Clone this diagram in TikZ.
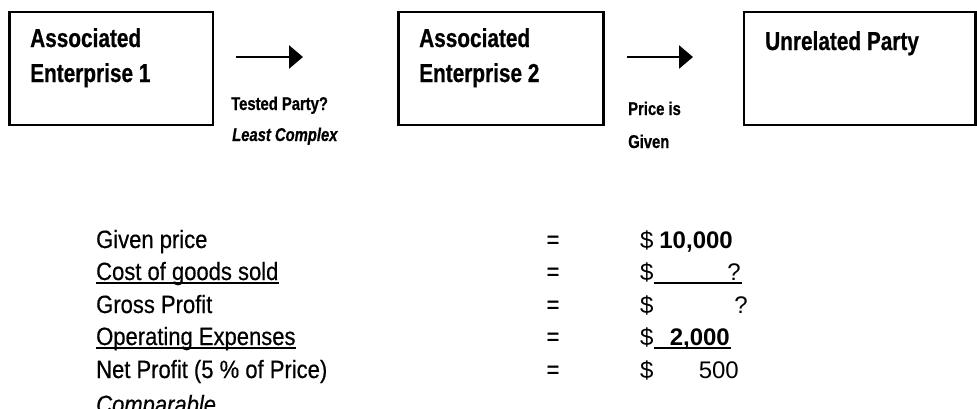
\documentclass[tikz,border=0pt]{standalone}
\usepackage{fontspec}
\setmainfont{Liberation Sans}
\newfontfamily\condfont[FakeStretch=0.8,FakeBold=0.6]{Liberation Sans}
\newfontfamily\condreg[FakeStretch=0.88,FakeBold=0.5]{Liberation Sans}
\usetikzlibrary{arrows.meta}
\tikzset{
 box/.style={draw, line width=2.6pt, inner sep=0pt},
 boxtxt/.style={anchor=base west, inner sep=0pt, font=\condfont\bfseries\fontsize{26}{30}\selectfont},
 smalltxt/.style={anchor=base west, inner sep=0pt, font=\condfont\bfseries\fontsize{18.5}{22}\selectfont},
 rowtxt/.style={anchor=base west, inner sep=0pt, font=\condreg\fontsize{25}{30}\selectfont},
 eqtxt/.style={anchor=base, inner sep=0pt, font=\condreg\fontsize{25}{30}\selectfont},
 valtxt/.style={anchor=base east, inner sep=0pt, font=\fontsize{24}{28}\selectfont},
 doltxt/.style={anchor=base west, inner sep=0pt, font=\fontsize{24}{28}\selectfont},
 flow/.style={line width=2.6pt, -{Triangle[length=14pt,width=23pt]}},
 uline/.style={line width=2pt},
}
\begin{document}
\begin{tikzpicture}[x=1pt,y=-1pt]
\useasboundingbox (0,0) rectangle (977,408);
\clip (0,0) rectangle (977,408);
% boxes
\node[box, minimum width=203.5pt, minimum height=113pt] (ae1) at (111.25,68.5) {};
\node[box, minimum width=205pt, minimum height=113pt] (ae2) at (501,68.5) {};
\node[box, minimum width=231.5pt, minimum height=113pt] (up) at (859.75,68.5) {};
\node[boxtxt] (t1a) at (30,47) {Associated};
\node[boxtxt] (t1b) at (30,82) {Enterprise 1};
\node[boxtxt] (t2a) at (419,47) {Associated};
\node[boxtxt] (t2b) at (419,82) {Enterprise 2};
\node[boxtxt] (t3a) at (765,50) {Unrelated Party};
% arrows
\coordinate (a1s) at (236,57);
\coordinate (a1e) at (303,57);
\coordinate (a2s) at (627,57);
\coordinate (a2e) at (693,57);
\draw[flow] (a1s) -- (a1e);
\draw[flow] (a2s) -- (a2e);
\node[smalltxt] (tp) at (231,110) {Tested Party?};
\node[smalltxt] (lc) at (232,141) {\itshape Least Complex};
\node[smalltxt] (pi) at (628,115) {Price is};
\node[smalltxt] (pg) at (628,148) {Given};
% rows
\node[rowtxt] (l1) at (96,248) {Given price};
\node[rowtxt] (l2) at (96,280) {Cost of goods sold};
\node[rowtxt] (l3) at (96,313) {Gross Profit};
\node[rowtxt] (l4) at (96,345) {Operating Expenses};
\node[rowtxt] (l5) at (96,378) {Net Profit (5 \% of Price)};
\node[rowtxt] (l6) at (96,413) {\itshape Comparable};
\draw[uline] ([yshift=-3pt]l2.base west) -- ([yshift=-3pt]l2.base east);
\draw[uline] ([yshift=-3pt]l4.base west) -- ([yshift=-3pt]l4.base east);
\foreach \i/\y in {1/248,2/280,3/313,4/345,5/378}{
  \node[eqtxt] (e\i) at (553,\y) {=};
  \node[doltxt] (d\i) at (640,\y) {\$};
}
\node[valtxt] (v1) at (733,248) {\bfseries 10,000};
\node[valtxt] (v2) at (741,280) {?};
\node[valtxt] (v3) at (748,313) {?};
\node[valtxt] (v4) at (730,345) {\bfseries 2,000};
\node[valtxt] (v5) at (739,378) {500};
\draw[uline] ([yshift=-2.5pt]d2.base east) -- ([yshift=-2.5pt,xshift=1pt]v2.base east);
\draw[uline] ([yshift=-2.5pt]d4.base east) -- ([yshift=-2.5pt,xshift=1pt]v4.base east);
\end{tikzpicture}
\end{document}
